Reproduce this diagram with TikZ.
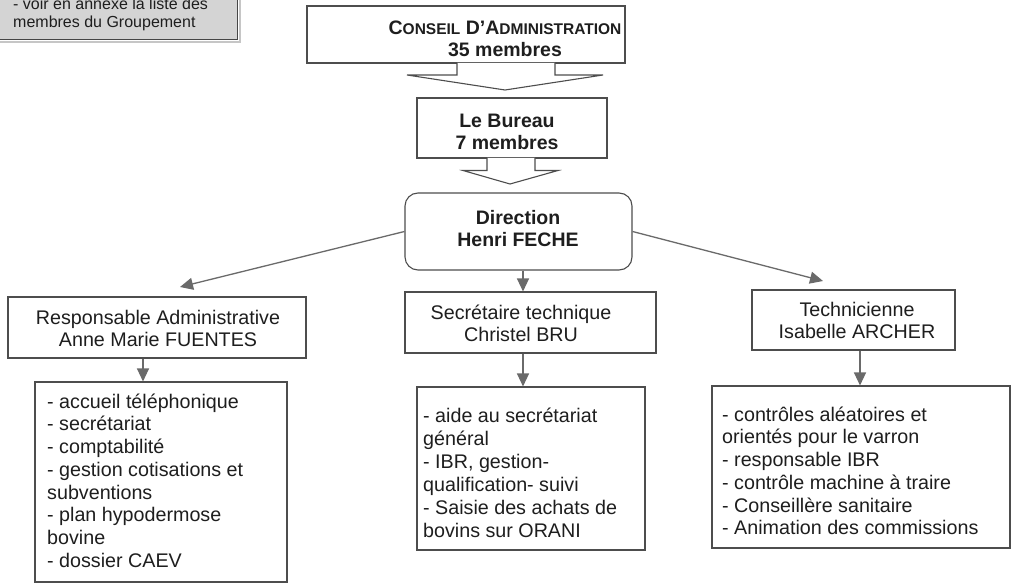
\documentclass[tikz,border=0pt]{standalone}
\usepackage{fontspec}
\setmainfont{Liberation Sans}
\usetikzlibrary{arrows.meta,calc}
\definecolor{ln}{HTML}{4D4D4D}
\definecolor{ar}{HTML}{6A6A6A}
\definecolor{tx}{HTML}{1E1E1E}
\definecolor{greyfill}{HTML}{D4D4D4}
\newcommand{\tst}{\rule{0pt}{16pt}}
\newcommand{\gst}{\rule{0pt}{13pt}}
\newcommand{\sct}[1]{{\fontsize{15.5}{16}\selectfont #1}}
\begin{document}
\begin{tikzpicture}[x=1pt,y=-1pt,
  box/.style={draw=ln,line width=1.1pt,fill=white,inner sep=0pt},
  lbl/.style={inner sep=0pt,text=tx,font=\fontsize{19.7}{22.7}\selectfont,align=left,anchor=north west},
  tlbl/.style={inner sep=0pt,text=tx,font=\fontsize{19.7}{22.7}\selectfont,align=center,anchor=north},
  blbl/.style={inner sep=0pt,text=tx,font=\bfseries\fontsize{19.5}{22.5}\selectfont,align=center,anchor=north},
  conn/.style={draw=ar,line width=1.3pt,-{Triangle[length=13pt,width=12pt]}},
  blk/.style={draw=ln,line width=1.1pt,fill=white,line join=miter}]
\useasboundingbox (0,0) rectangle (1014,585);
\fill[white] (0,0) rectangle (1014,585);

% note box (top left)
\draw[gray!45,line width=2pt] (239.5,-2) -- (239.5,42.5) -- (-2,42.5);
\node[draw=gray!55!black,line width=1pt,fill=greyfill,inner sep=0pt,minimum width=240pt,minimum height=42pt] (note) at (117,19) {};
\node[inner sep=0pt,text=tx,font=\fontsize{16}{18}\selectfont,align=left,anchor=north west] (notetext) at (13,-4)
  {\gst- voir en annexe la liste des\\membres du Groupement};

% top boxes
\node[box,minimum width=318pt,minimum height=57pt] (conseil) at (466,34.5) {};
\node[blbl] (conseiltext) at (505,18) {\tst C\sct{ONSEIL} D’A\sct{DMINISTRATION}\\35 membres};

\draw[blk] (457,63) -- (457,75) -- (407,75) -- (505,90) -- (603,75) -- (555,75) -- (555,63);

\node[box,minimum width=190pt,minimum height=60pt] (bureau) at (512,128) {};
\node[blbl] (bureautext) at (507,111) {\tst Le Bureau\\7 membres};

\draw[blk] (487,158) -- (487,170.5) -- (463,170.5) -- (510,184) -- (558,170.5) -- (535,170.5) -- (535,158);

\node[box,rounded corners=13pt,minimum width=227pt,minimum height=77pt] (dir) at (518.5,231.5) {};
\node[blbl] (dirtext) at (518,208) {\tst Direction\\Henri FECHE};

% second level
\node[box,minimum width=298pt,minimum height=61pt] (resp) at (157,327.5) {};
\node[tlbl] (resptext) at (158,308) {\tst Responsable Administrative\\Anne Marie FUENTES};

\node[box,minimum width=251pt,minimum height=61pt] (sec) at (530.5,322.5) {};
\node[tlbl] (sectext) at (521,303) {\tst Secrétaire technique\\Christel BRU};

\node[box,minimum width=203pt,minimum height=60pt] (tech) at (853.5,320) {};
\node[tlbl] (techtext) at (857,300) {\tst Technicienne\\Isabelle ARCHER};

% task boxes
\node[box,minimum width=252pt,minimum height=200pt] (ltask) at (161,482) {};
\node[lbl] (ltasktext) at (47,392) {\tst- accueil téléphonique\\- secrétariat\\- comptabilité\\- gestion cotisations et\\subventions\\- plan hypodermose\\bovine\\- dossier CAEV};

\node[box,minimum width=228pt,minimum height=163pt] (ctask) at (531,468.5) {};
\node[lbl,font=\fontsize{19.7}{23}\selectfont] (ctasktext) at (423,406) {\tst- aide au secrétariat\\général\\- IBR, gestion-\\qualification- suivi\\- Saisie des achats de\\bovins sur ORANI};

\node[box,minimum width=298pt,minimum height=162pt] (rtask) at (861,467) {};
\node[lbl] (rtasktext) at (722,405) {\tst- contrôles aléatoires et\\orientés pour le varron\\- responsable IBR\\- contrôle machine à traire\\- Conseillère sanitaire\\- Animation des commissions};

% connectors
\coordinate (tipL) at (180,287);
\coordinate (tipR) at (823,281);
\coordinate (xc) at (523,0);
\coordinate (xl) at (143,0);
\coordinate (xr) at (860,0);
\draw[conn] (dir.west) -- (tipL);
\draw[conn] (dir.east) -- (tipR);
\draw[conn] (dir.south -| xc) -- (sec.north -| xc);
\draw[conn] (sec.south -| xc) -- (ctask.north -| xc);
\draw[conn] (resp.south -| xl) -- (ltask.north -| xl);
\draw[conn] (tech.south -| xr) -- (rtask.north -| xr);
\end{tikzpicture}
\end{document}
